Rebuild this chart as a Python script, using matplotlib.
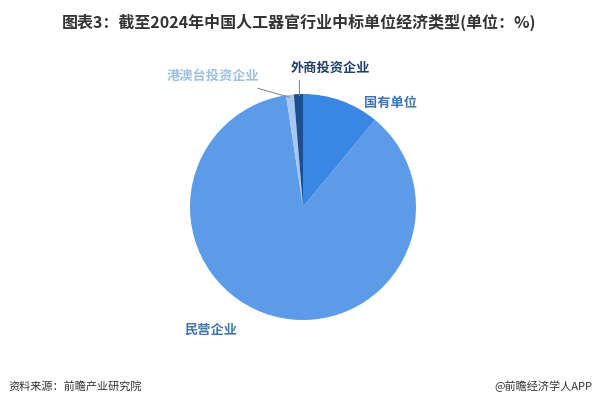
import matplotlib
matplotlib.use("Agg")
import matplotlib.pyplot as plt

plt.rcParams['font.family'] = ['Noto Sans CJK SC', 'DejaVu Sans']

categories = ["国有单位", "民营企业", "港澳台投资企业", "外商投资企业"]
shares = [11.0, 86.6, 1.1, 1.3]
colors = ["#3a86e4", "#5b9be8", "#a5c8f2", "#1f4e8f"]
label_colors = ["#3f74ad", "#3f74ad", "#9dbfe3", "#1f3f6b"]

W, H = 598, 408
cx, cy, r = 303, 207, 113

fig = plt.figure(figsize=(W / 100, H / 100), dpi=100)
ax = fig.add_axes([(cx - r) / W, (H - cy - r) / H, 2 * r / W, 2 * r / H])
ax.pie(shares, colors=colors, startangle=90, counterclock=False, radius=1,
       wedgeprops=dict(linewidth=0))
ax.set_xlim(-1, 1)
ax.set_ylim(-1, 1)
ax.set_aspect("equal")
ax.axis("off")

# label positions in pie units (radius = 1)
label_pos = {
    "国有单位": (0.77, 0.92),
    "民营企业": (-0.82, -1.09),
    "港澳台投资企业": (-0.80, 1.16),
    "外商投资企业": (0.24, 1.23),
}
for name, col in zip(categories, label_colors):
    x, y = label_pos[name]
    ax.text(x, y, name, color=col, fontsize=9.5, fontweight="bold",
            ha="center", va="center", clip_on=False)

# leader lines for the small slices
ax.plot([-0.115, -0.40], [0.97, 1.05], color="#8c8c8c", lw=0.8, clip_on=False)
ax.plot([-0.035, -0.035], [0.99, 1.12], color="#8c8c8c", lw=0.8, clip_on=False)

fig.text(0.5, 1 - 22 / H, "图表3：截至2024年中国人工器官行业中标单位经济类型(单位：%)",
         ha="center", va="center", fontsize=11.5, fontweight="bold", color="#333333")
fig.text(8 / W, 1 - 386 / H, "资料来源：前瞻产业研究院", ha="left", va="center",
         fontsize=8, color="#333333")
fig.text(1 - 6 / W, 1 - 386 / H, "@前瞻经济学人APP", ha="right", va="center",
         fontsize=8, color="#333333")

fig.savefig("out.png", dpi=100)
